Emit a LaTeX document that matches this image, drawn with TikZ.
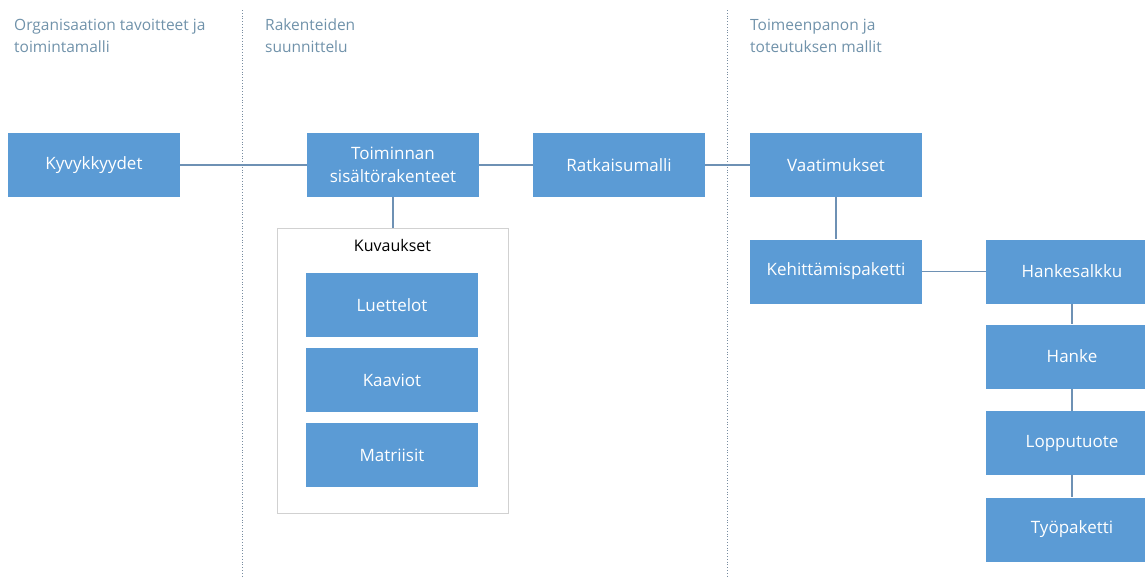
\documentclass[tikz,border=0pt]{standalone}
\usepackage{fontspec}
\setmainfont{Open Sans}
\definecolor{boxblue}{RGB}{91,155,213}
\definecolor{linkcol}{RGB}{110,145,180}
\definecolor{headcol}{RGB}{112,146,170}
\definecolor{guidecol}{RGB}{120,140,160}
\begin{document}
\begin{tikzpicture}[x=1pt,y=-1pt,
  blockbox/.style={fill=boxblue, text=white, minimum width=172pt, minimum height=64pt,
    inner sep=2pt, align=center, font=\fontsize{17}{23}\selectfont},
  link/.style={draw=linkcol, line width=1.3pt},
  heading/.style={anchor=north west, inner sep=0pt, text=headcol, align=left,
    font=\fontsize{15.5}{22}\selectfont},
  guide/.style={draw=guidecol, line width=0.8pt, dotted}]
\useasboundingbox (0,0) rectangle (1145,576);
\clip (0,0) rectangle (1145,576);

% column headings
\node[heading] (h1) at (14,19) {Organisaation tavoitteet ja\\toimintamalli};
\node[heading] (h2) at (265,19) {Rakenteiden\\suunnittelu};
\node[heading] (h3) at (750,19) {Toimeenpanon ja\\toteutuksen mallit};

% dotted column separators
\coordinate (s1t) at (242,10);
\coordinate (s1b) at (242,576);
\coordinate (s2t) at (727,10);
\coordinate (s2b) at (727,576);
\draw[guide] (s1t) -- (s1b);
\draw[guide] (s2t) -- (s2b);

% frame grouping the descriptions
\node[draw=black!18, line width=0.8pt, fill=white, minimum width=231pt, minimum height=285pt,
      inner sep=0pt] (kuv) at (392.5,370.5) {};
\node[font=\fontsize{16}{20}\selectfont, text=black] (kuvlab) at (392.5,245) {Kuvaukset};

% boxes
\node[blockbox] (kyv) at (94,165) {Kyvykkyydet};
\node[blockbox] (toim) at (393,165) {Toiminnan\\sisältörakenteet};
\node[blockbox] (ratk) at (619,165) {Ratkaisumalli};
\node[blockbox] (vaat) at (836,165) {Vaatimukset};
\node[blockbox] (keh) at (836,271.5) {Kehittämispaketti};
\node[blockbox] (hank) at (1072,271.5) {Hankesalkku};
\node[blockbox] (hanke) at (1072,356.5) {Hanke};
\node[blockbox] (lopp) at (1072,443) {Lopputuote};
\node[blockbox] (tyo) at (1072,529.5) {Työpaketti};
\node[blockbox] (luet) at (392,305) {Luettelot};
\node[blockbox] (kaav) at (392,380) {Kaaviot};
\node[blockbox] (matr) at (392,455) {Matriisit};

% connectors
\draw[link] (kyv) -- (toim);
\draw[link] (toim) -- (ratk);
\draw[link] (ratk) -- (vaat);
\draw[link] (vaat) -- (keh);
\draw[link] (keh) -- (hank);
\draw[link] (hank) -- (hanke);
\draw[link] (hanke) -- (lopp);
\draw[link] (lopp) -- (tyo);
\draw[link] (toim.south) -- (toim.south |- kuv.north);
\end{tikzpicture}
\end{document}
